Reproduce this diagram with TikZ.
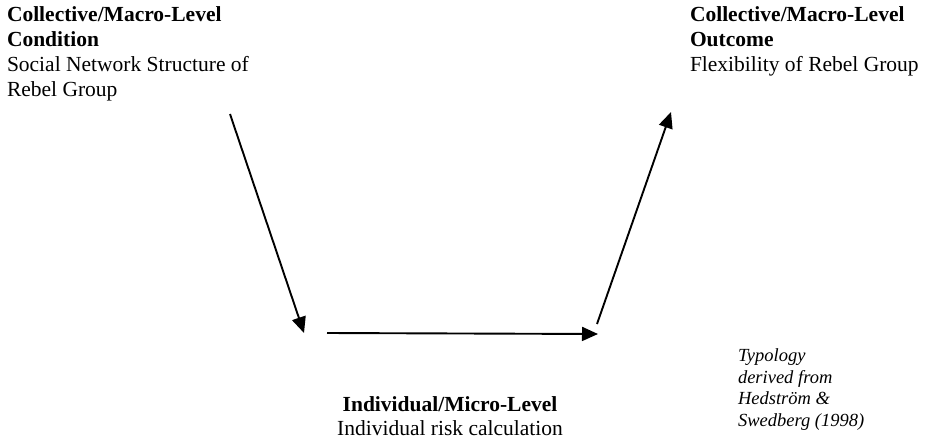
\documentclass[tikz,border=0pt]{standalone}
\usepackage{fontspec}
\setmainfont{Liberation Serif}
\usetikzlibrary{arrows.meta}
\begin{document}
\begin{tikzpicture}[x=1pt,y=-1pt,
  lbl/.style={inner sep=0pt,outer sep=0pt,align=left,font=\fontsize{21.5}{25}\selectfont},
  note/.style={inner sep=0pt,outer sep=0pt,align=left,font=\fontsize{18.5}{21.5}\selectfont\itshape},
  flow/.style={line width=1.9pt,-{Triangle[length=16pt,width=14pt]}}]
\useasboundingbox (0,0) rectangle (930,440);
\node[lbl,anchor=north west] (cond) at (7,7) {\textbf{Collective/Macro-Level}\\\textbf{Condition}\\Social Network Structure of\\Rebel Group};
\node[lbl,anchor=north west] (outc) at (690,7) {\textbf{Collective/Macro-Level}\\\textbf{Outcome}\\Flexibility of Rebel Group};
\node[lbl,align=center,anchor=north,font=\fontsize{21.5}{24}\selectfont] (micro) at (450,397) {\textbf{Individual/Micro-Level}\\Individual risk calculation};
\node[note,anchor=north west] (typ) at (738,349) {Typology\\derived from\\Hedström \&\\Swedberg (1998)};
\coordinate (a1s) at (230,114);
\coordinate (a1e) at (304,333);
\coordinate (a2s) at (327,333);
\coordinate (a2e) at (598,334);
\coordinate (a3s) at (597,324);
\coordinate (a3e) at (671,112);
\draw[flow] (a1s) -- (a1e);
\draw[flow] (a2s) -- (a2e);
\draw[flow] (a3s) -- (a3e);
\end{tikzpicture}
\end{document}
